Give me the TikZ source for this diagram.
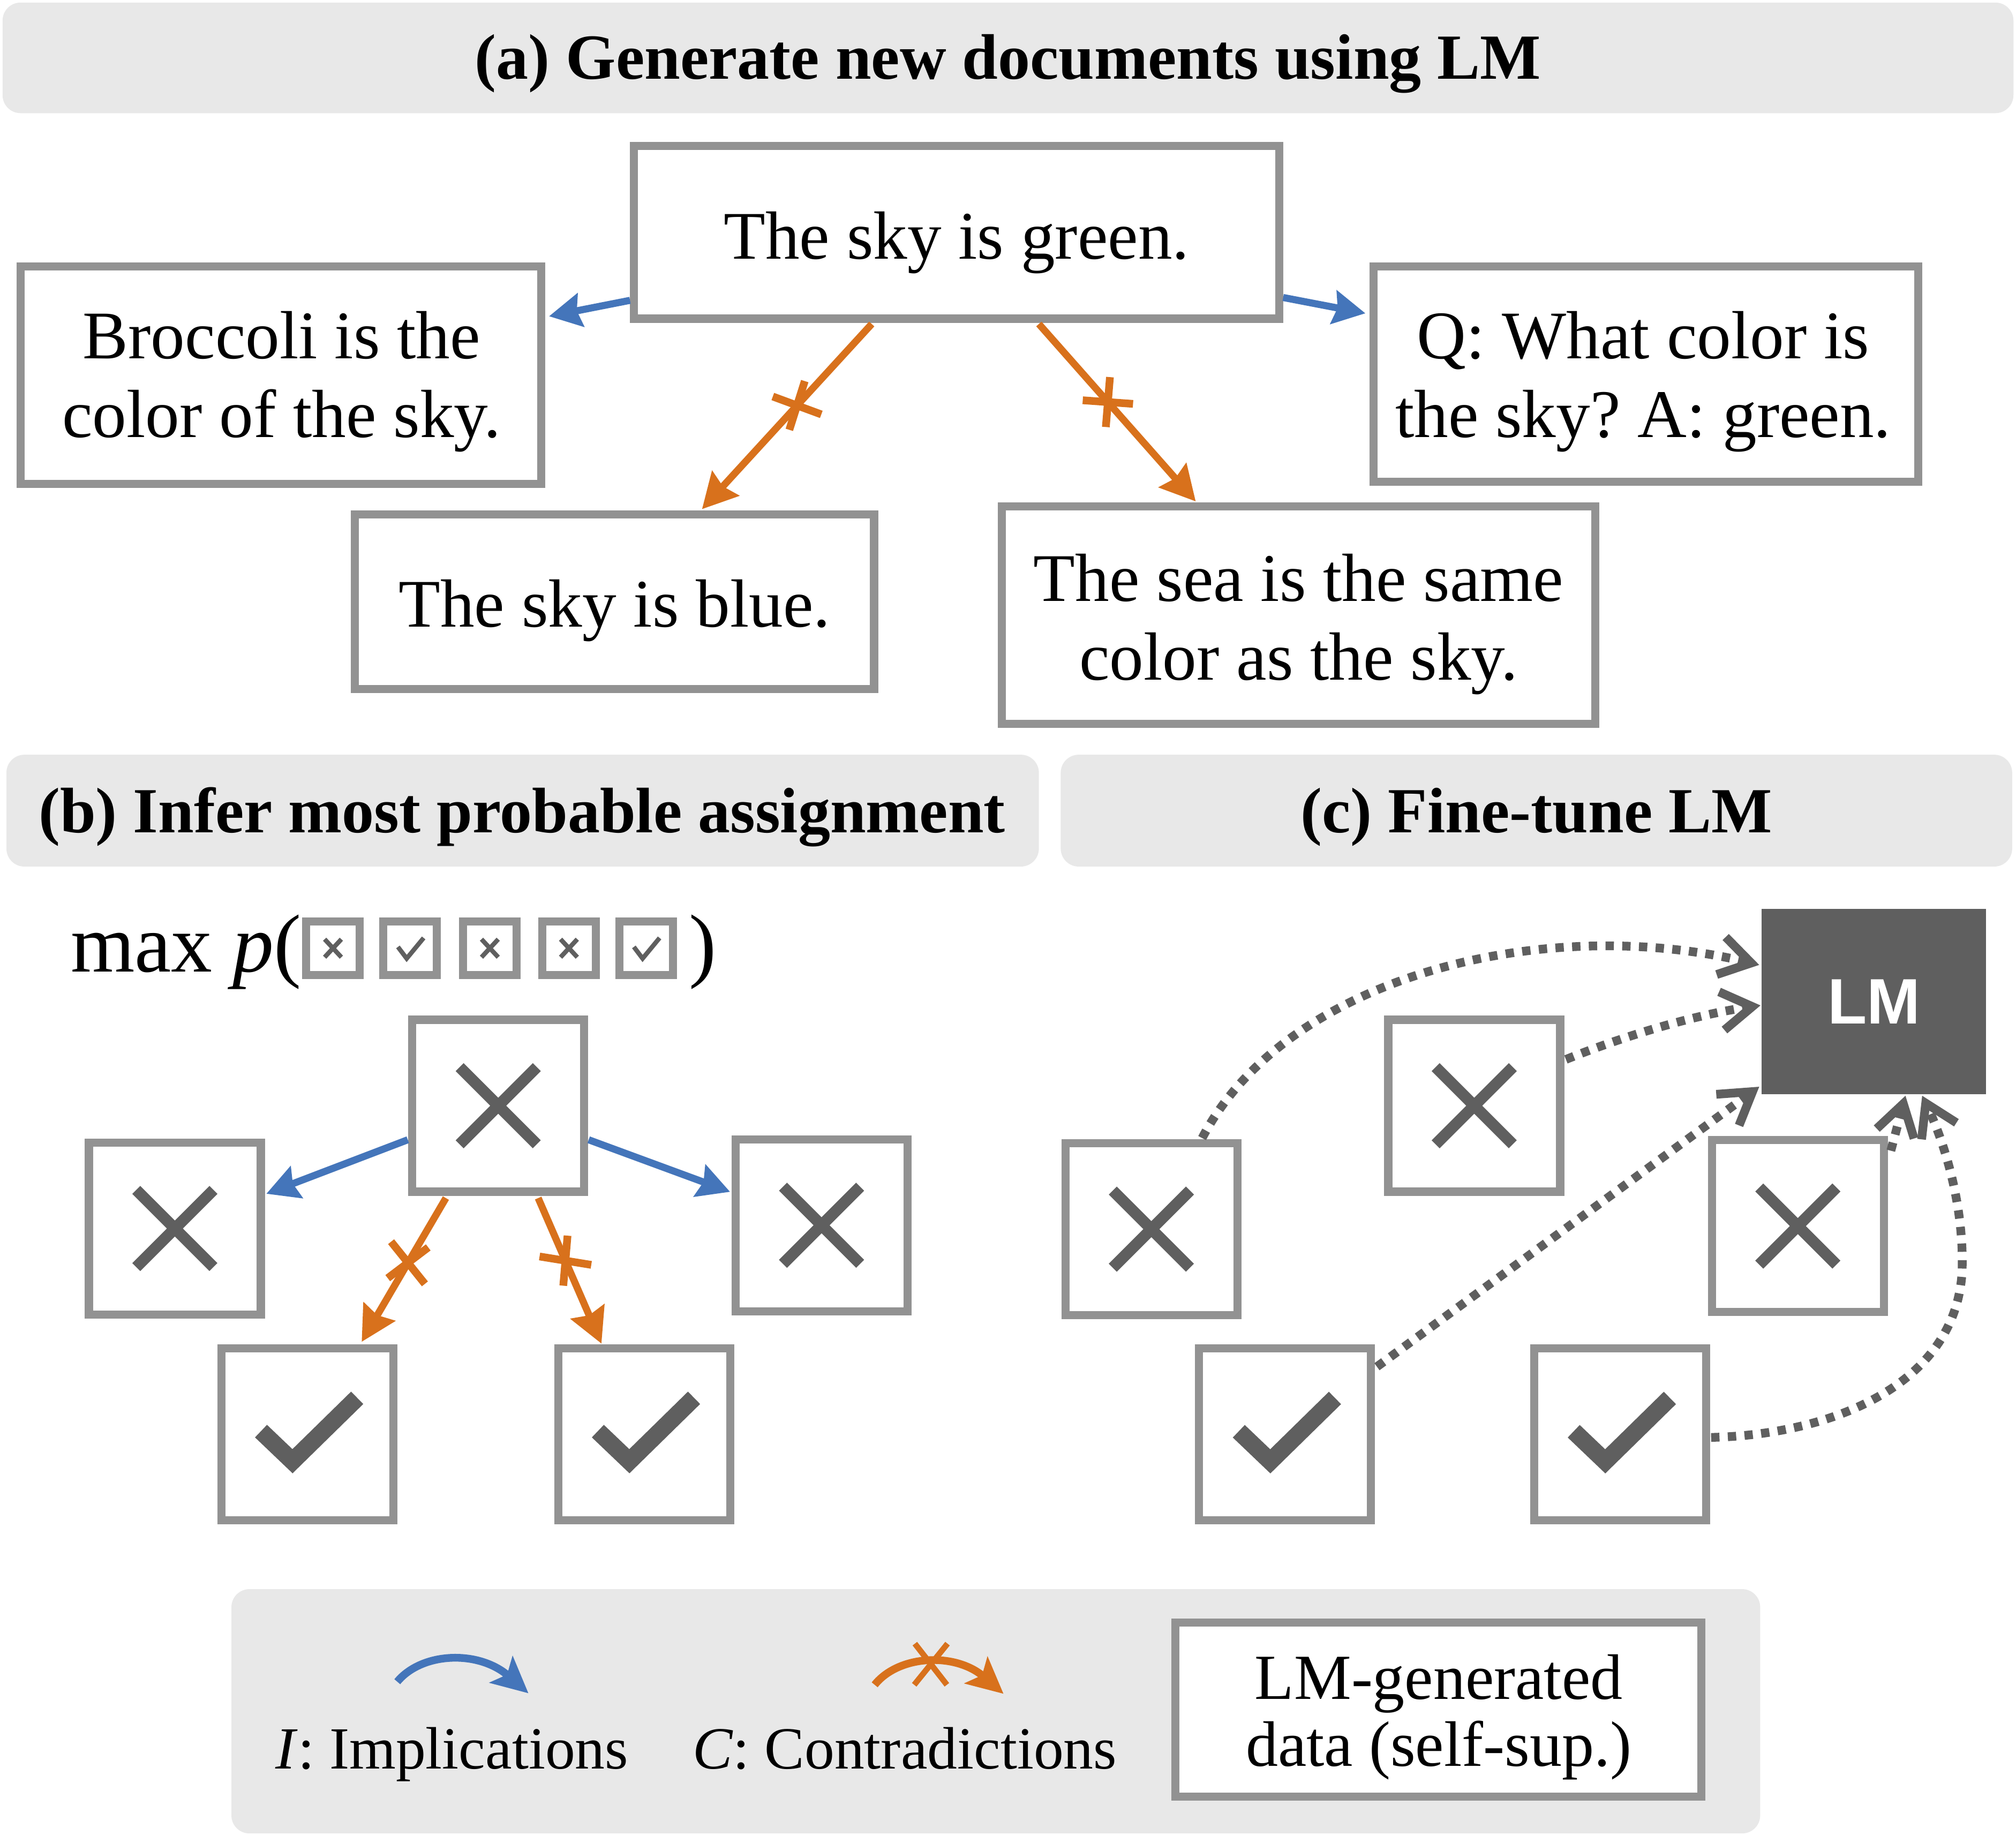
\documentclass[tikz,border=0pt]{standalone}
\usepackage{fontspec}
\setmainfont{Liberation Serif}
\newfontfamily\lmsansfont{Liberation Sans}
\usetikzlibrary{arrows.meta,calc}
\frenchspacing
\definecolor{boxgray}{HTML}{929292}
\definecolor{darkg}{HTML}{5F5F5F}
\definecolor{headg}{HTML}{E8E8E8}
\definecolor{impblue}{HTML}{4475BA}
\definecolor{conorange}{HTML}{D8711C}
\newcommand{\hdfont}{\fontsize{50pt}{60pt}\selectfont\bfseries}
\newcommand{\docfont}{\fontsize{53pt}{62pt}\selectfont}
\newcommand{\maxfont}{\fontsize{64pt}{70pt}\selectfont}
\newcommand{\lgfont}{\fontsize{46.5pt}{56pt}\selectfont}
\newcommand{\lbfont}{\fontsize{50pt}{52pt}\selectfont}
\newcommand{\lmfont}{\lmsansfont\bfseries\fontsize{50pt}{60pt}\selectfont}
\tikzset{
 xmark/.pic={\draw[darkg,line width=8.8pt] (-30,-30)--(30,30) (-30,30)--(30,-30);},
 cmark/.pic={\draw[darkg,line width=13.5pt,miter limit=10] (-36,-2.4)--(-11.5,21)--(38.8,-28.3);},
 sxmark/.pic={\draw[darkg,line width=3.5pt] (-6.5,-7)--(6.5,7) (-6.5,7)--(6.5,-7);},
 scmark/.pic={\draw[darkg,line width=3.5pt,miter limit=10] (-9.5,-1)--(-2.7,8)--(10.5,-8);},
}
\begin{document}
\frenchspacing
\begin{tikzpicture}[x=1pt,y=-1pt,
 every node/.style={inner sep=0pt,outer sep=0pt},
 panel/.style={fill=headg,rounded corners=14pt},
 docbox/.style={draw=boxgray,line width=6.3pt,fill=white},
 bigbox/.style={docbox,minimum width=133.7pt,minimum height=133.7pt},
 smallbox/.style={docbox,minimum width=41.7pt,minimum height=41.7pt},
 txt/.style={anchor=base,font=\docfont},
 impl/.style={draw=impblue,line width=5.5pt,-{Stealth[length=25pt,width=26pt,inset=3pt]}},
 contr/.style={draw=conorange,line width=5.5pt,-{Stealth[length=27pt,width=28pt,inset=3pt]}},
 crossbar/.style={draw=conorange,line width=6pt},
 ftarrow/.style={draw=darkg,line width=6.8pt,dash pattern=on 6.5pt off 6.5pt,-{Straight Barb[length=24pt,width=30pt]}},
]
\useasboundingbox (0,0) rectangle (1568,1428);
\fill[white] (0,0) rectangle (1568,1428);

% panels
\node[panel,minimum width=1564pt,minimum height=86pt] (hA) at (784,45) {};
\node[panel,minimum width=803pt,minimum height=87pt] (hB) at (406.5,630.5) {};
\node[panel,minimum width=740pt,minimum height=87pt] (hC) at (1195,630.5) {};
\node[panel,minimum width=1189pt,minimum height=190pt] (hL) at (774.5,1331) {};
\node[anchor=base,font=\hdfont] (tA) at (784,61.5) {(a) Generate new documents using LM};
\node[anchor=base,font=\hdfont] (tB) at (406,647.5) {(b) Infer most probable assignment};
\node[anchor=base,font=\hdfont] (tC) at (1195,647.5) {(c) Fine-tune LM};

% (a)
\node[docbox,minimum width=501.7pt,minimum height=134.2pt] (green) at (744,180.75) {};
\node[docbox,minimum width=404.7pt,minimum height=169.2pt] (broc) at (218.5,291.75) {};
\node[docbox,minimum width=423.7pt,minimum height=167.7pt] (qbox) at (1280,291) {};
\node[docbox,minimum width=403.7pt,minimum height=135.7pt] (bluebox) at (478,468) {};
\node[docbox,minimum width=461.7pt,minimum height=169.1pt] (sea) at (1010,478.3) {};
\node[txt] (t1) at (744,201.5) {The sky is green.};
\node[txt] (t2a) at (219,279) {Broccoli is the};
\node[txt] (t2b) at (219,340) {color of the sky.};
\node[txt] (t3a) at (1278,279) {Q: What color is};
\node[txt] (t3b) at (1278,340) {the sky? A: green.};
\node[txt] (t4) at (478,487.5) {The sky is blue.};
\node[txt] (t5a) at (1010,467.5) {The sea is the same};
\node[txt] (t5b) at (1010,529) {color as the sky.};

\draw[impl] ($(green.west)+(-3.15,52.85)$) -- ($(broc.east)+(6.15,-45.75)$);
\draw[impl] ($(green.east)+(3.15,50.65)$) -- ($(qbox.west)+(-6.15,-47.3)$);
\draw[contr] ($(green.south)+(-66,4.15)$) -- coordinate[pos=0.44] (ca1) ($(bluebox.north)+(68,-4.15)$);
\draw[contr] ($(green.south)+(64,4.15)$) -- coordinate[pos=0.44] (ca2) ($(sea.north)+(-80,-3.75)$);
\draw[crossbar] ($(ca1)+(-18.85,-6.95)$) -- ($(ca1)+(18.85,6.95)$) ($(ca1)+(6,-18.95)$) -- ($(ca1)+(-6,18.95)$);
\draw[crossbar] ($(ca2)+(-19.55,-1.4)$) -- ($(ca2)+(19.55,1.4)$) ($(ca2)+(1.6,-19.4)$) -- ($(ca2)+(-1.6,19.4)$);

% (b)
\node[anchor=base west,font=\maxfont] (maxp) at (55,756) {max \textit{p}(};
\node[smallbox] (sb1) at (259,737.5) {};
\node[smallbox] (sb2) at (319,737.5) {};
\node[smallbox] (sb3) at (381,737.5) {};
\node[smallbox] (sb4) at (442.5,737.5) {};
\node[smallbox] (sb5) at (502.5,737.5) {};
\pic at (sb1) {sxmark};
\pic at (sb2) {scmark};
\pic at (sb3) {sxmark};
\pic at (sb4) {sxmark};
\pic at (sb5) {scmark};
\node[anchor=base west,font=\maxfont] (rparen) at (535.8,756) {)};

\node[bigbox] (bT) at (387.5,860) {};
\node[bigbox] (bL) at (136,955.5) {};
\node[bigbox] (bR) at (639,953) {};
\node[bigbox] (bCL) at (239,1115.5) {};
\node[bigbox] (bCR) at (501,1115.5) {};
\pic at (bT) {xmark};
\pic at (bL) {xmark};
\pic at (bR) {xmark};
\pic at (bCL) {cmark};
\pic at (bCR) {cmark};

\draw[impl] ($(bT.west)+(-3.5,26.5)$) -- ($(bL.east)+(4.3,-27)$);
\draw[impl] ($(bT.east)+(3.5,26.5)$) -- ($(bR.west)+(-4.3,-26)$);
\draw[contr] ($(bT.south)+(-40.7,5)$) -- coordinate[pos=0.45] (cb1) ($(bCL.north)+(42.3,-5)$);
\draw[contr] ($(bT.south)+(31.1,5)$) -- coordinate[pos=0.43] (cb2) ($(bCR.north)+(-33.2,-3.6)$);
\draw[crossbar] ($(cb1)+(-13.15,-16.4)$) -- ($(cb1)+(13.15,16.4)$) ($(cb1)+(-15.75,11.95)$) -- ($(cb1)+(15.75,-11.95)$);
\draw[crossbar] ($(cb2)+(-20.1,-3.25)$) -- ($(cb2)+(20.1,3.25)$) ($(cb2)+(1.65,-19.45)$) -- ($(cb2)+(-1.65,19.45)$);

% (c)
\node[fill=darkg,minimum width=174.5pt,minimum height=144.5pt,text=white,font=\lmfont] (lm) at (1457.5,779) {LM};
\node[bigbox] (cX1) at (895.5,956) {};
\node[bigbox] (cX2) at (1146.6,860) {};
\node[bigbox] (cX3) at (1398.3,953.6) {};
\node[bigbox] (cC1) at (999.5,1115.6) {};
\node[bigbox] (cC2) at (1260,1115.6) {};
\pic at (cX1) {xmark};
\pic at (cX2) {xmark};
\pic at (cX3) {xmark};
\pic at (cC1) {cmark};
\pic at (cC2) {cmark};

\draw[ftarrow] ($(cX1.north)+(39.5,-4)$) .. controls (1000,760) and (1200,710) .. ($(lm.west)+(-2,-28.5)$);
\draw[ftarrow] ($(cX2.east)+(4.5,-36)$) .. controls (1265,805) and (1320,789) .. ($(lm.west)+(-1,3)$);
\draw[ftarrow] ($(cC1.east)+(4.6,-52.6)$) -- ($(lm.south west)+(-2,-6)$);
\draw[ftarrow] ($(cX3.east)+(5.5,-58.6)$) -- ($(lm.south)+(24.5,1)$);
\draw[ftarrow] ($(cC2.east)+(4,2.4)$) .. controls (1420,1116) and (1520,1080) .. (1526,990) .. controls (1528,940) and (1513,890) .. ($(lm.south)+(37.5,1)$);

% legend
\coordinate (li1) at (309,1308);
\coordinate (li2) at (411,1317);
\coordinate (lc1) at (680.3,1310.4);
\coordinate (lc2) at (780.5,1317.4);
\coordinate (lcx) at (724,1294.4);
\draw[draw=impblue,line width=6pt,-{Stealth[length=28pt,width=27pt,inset=6pt]}] (li1) .. controls (328,1285) and (372,1283) .. (li2);
\draw[draw=conorange,line width=6pt,-{Stealth[length=28pt,width=27pt,inset=6pt]}] (lc1) .. controls (699,1287) and (743,1285) .. (lc2);
\draw[draw=conorange,line width=4.5pt] ($(lcx)+(-12.45,-16)$) -- ($(lcx)+(12.45,16)$) ($(lcx)+(12.95,-16)$) -- ($(lcx)+(-12.95,16)$);
\node[anchor=base west,font=\lgfont] (limp) at (214.4,1375.7) {\textit{I}: Implications};
\node[anchor=base west,font=\lgfont] (lcon) at (538.8,1375.7) {\textit{C}: Contradictions};
\node[docbox,minimum width=409.2pt,minimum height=135.2pt] (lbox) at (1118.75,1329.75) {};
\node[anchor=base,font=\lbfont] (lb1) at (1119,1321.5) {LM-generated};
\node[anchor=base,font=\lbfont] (lb2) at (1119,1373.6) {data (self-sup.)};
\end{tikzpicture}
\end{document}
